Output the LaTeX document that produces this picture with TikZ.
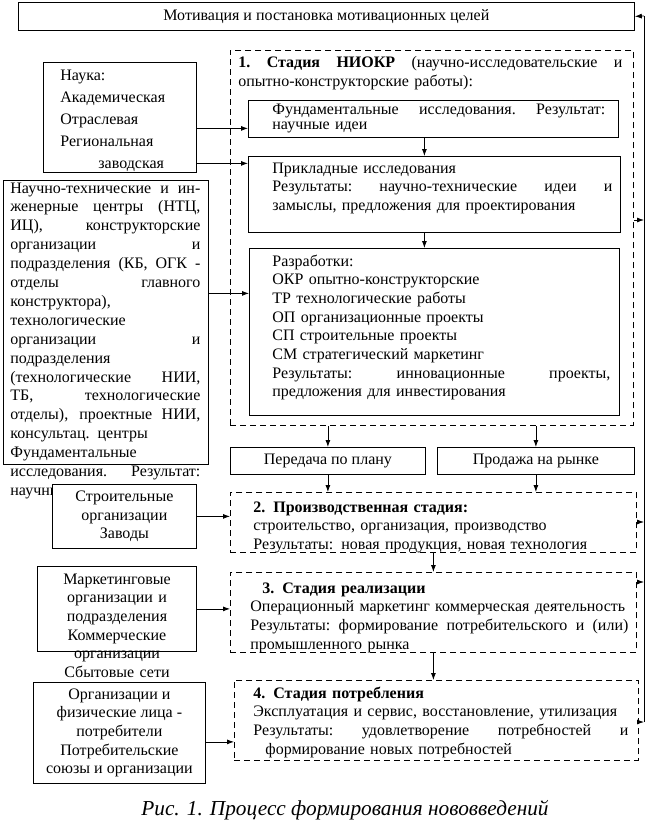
\documentclass[tikz,border=0pt]{standalone}
\usepackage{fontspec}
\setmainfont{Liberation Serif}
\usetikzlibrary{arrows.meta, positioning}

\tikzset{
  box/.style={draw, line width=0.8pt, fill=white, inner sep=0pt, anchor=north west},
  stagebox/.style={draw, line width=0.8pt, dash pattern=on 6pt off 4pt, inner sep=0pt, anchor=north west},
  txt/.style={anchor=base west, inner sep=0pt, align=left},
}
% строка по всей ширине
\newcommand{\fullline}[2]{\makebox[#1][s]{\spaceskip=0.25em plus 1fil\xspaceskip=0.25em plus 1fil #2}}

\begin{document}
\begin{tikzpicture}[x=1pt, y=-1pt, >={Latex[length=7pt,width=5pt]}, line width=0.8pt,
    font=\fontsize{16}{18.7}\selectfont]
    \useasboundingbox (0,0) rectangle (647,832);

    % Мотивация
    \node[box, minimum width=616pt, minimum height=28pt] (motiv) at (18,2)
        {Мотивация и постановка мотивационных целей};

    % Стадия 1
    \node[stagebox, minimum width=403pt, minimum height=375pt] (niokr) at (230,50) {};
    \node[txt, text width=384pt] (niokrtext) at (238,68)
        {\fullline{384pt}{\textbf{1. Стадия НИОКР} (научно-исследовательские и}\\
         опытно-конструкторские работы):};
    \node[box, minimum width=370pt, minimum height=37pt] (fund) at (248,100) {};
    \node[txt, text width=333pt, font=\fontsize{16}{15}\selectfont] (fundtext) at (272,114)
        {\fullline{333pt}{Фундаментальные исследования. Результат:}\\ научные идеи};
    \node[box, minimum width=372pt, minimum height=76pt] (prikl) at (248,156) {};
    \node[txt, text width=340pt] (prikltext) at (272,173)
        {Прикладные исследования\\
         \fullline{340pt}{Результаты: научно-технические идеи и}\\
         замыслы, предложения для проектирования};
    \node[box, minimum width=370pt, minimum height=167pt] (razrab) at (249,248) {};
    \node[txt, text width=338pt] (razrabtext) at (272,266)
        {Разработки:\\
         ОКР опытно-конструкторские\\
         ТР технологические работы\\
         ОП организационные проекты\\
         СП строительные проекты\\
         СМ стратегический маркетинг\\
         \fullline{338pt}{Результаты: инновационные проекты,}\\
         предложения для инвестирования};

    % Наука
    \node[box, minimum width=153pt, minimum height=110pt] (nauka) at (43,62) {};
    \node[txt, text width=130pt, font=\fontsize{16}{22}\selectfont] (naukatext) at (60,81)
        {Наука:\\ Академическая\\ Отраслевая\\ Региональная\\ \hspace*{38pt}заводская};

    % НТЦ
    \node[box, minimum width=205pt, minimum height=284pt] (ntc) at (3,180) {};
    \node[txt, text width=190pt, font=\fontsize{16}{18.9}\selectfont] (ntctext) at (10,193)
        {\fullline{190pt}{Научно-технические и ин-}\\
         \fullline{190pt}{женерные центры (НТЦ,}\\
         \fullline{190pt}{ИЦ), конструкторские}\\
         \fullline{190pt}{организации и}\\
         \fullline{190pt}{подразделения (КБ, ОГК -}\\
         \fullline{190pt}{отделы главного}\\
         конструктора),\\
         технологические\\
         \fullline{190pt}{организации и}\\
         подразделения\\
         \fullline{190pt}{(технологические НИИ,}\\
         \fullline{190pt}{ТБ, технологические}\\
         \fullline{190pt}{отделы), проектные НИИ,}\\
         консультац. центры\\
         Фундаментальные\\
         \fullline{190pt}{исследования. Результат:}\\
         научные идеи};

    % Передача
    \node[box, minimum width=195pt, minimum height=27pt] (peredacha) at (230,447) {Передача по плану};
    \node[box, minimum width=197pt, minimum height=27pt] (prodazha) at (437,447) {Продажа на рынке};

    % Стадия 2
    \node[stagebox, minimum width=406pt, minimum height=60pt] (stagetwo) at (230,492) {};
    \node[txt, text width=370pt] (stagetwotext) at (253,512)
        {\textbf{2. Производственная стадия:}\\
         строительство, организация, производство\\
         Результаты: новая продукция, новая технология};
    \node[box, minimum width=144pt, minimum height=64pt, align=center] (stroit) at (52,484)
        {Строительные\\ организации\\ Заводы};

    % Стадия 3
    \node[stagebox, minimum width=406pt, minimum height=80pt] (stagethree) at (230,572) {};
    \node[txt, text width=378pt] (stagethreetext) at (250,593)
        {\hspace*{12pt}\textbf{3. Стадия реализации}\\
         Операционный маркетинг коммерческая деятельность\\
         \fullline{378pt}{Результаты: формирование потребительского и (или)}\\
         промышленного рынка};
    \node[box, minimum width=159pt, minimum height=85pt] (market) at (37,566) {};
    \node[anchor=base, inner sep=0pt, align=center, text width=160pt] (markettext) at (117,584)
        {Маркетинговые\\ организации и\\ подразделения\\ Коммерческие\\ организации\\ Сбытовые сети};

    % Стадия 4
    \node[stagebox, minimum width=404pt, minimum height=80pt] (stagefour) at (234,680) {};
    \node[txt, text width=375pt] (stagefourtext) at (253,698)
        {\textbf{4. Стадия потребления}\\
         Эксплуатация и сервис, восстановление, утилизация\\
         \fullline{375pt}{Результаты: удовлетворение потребностей и}\\
         \hspace*{12pt}формирование новых потребностей};
    \node[box, minimum width=172pt, minimum height=101pt, align=center] (org) at (33,682)
        {Организации и\\ физические лица -\\ потребители\\ Потребительские\\ союзы и организации};

    % Стрелки
    \draw[->] ([yshift=-11pt]nauka.east) -- ([yshift=-11pt]nauka.east -| fund.west);
    \draw[->] ([yshift=-46pt]nauka.east) -- ([yshift=-46pt]nauka.east -| prikl.west);
    \draw[->] ([yshift=29pt]ntc.east) -- ([yshift=29pt]ntc.east -| razrab.west);
    \draw[->] ([xshift=-9pt]fund.south) -- ([xshift=-9pt]fund.south |- prikl.north);
    \draw[->] ([xshift=-10pt]prikl.south) -- ([xshift=-10pt]prikl.south |- razrab.north);
    \draw[->] (peredacha.north |- niokr.south) -- (peredacha.north);
    \draw[->] (prodazha.north |- niokr.south) -- (prodazha.north);
    \draw[->] (peredacha.south) -- (peredacha.south |- stagetwo.north);
    \draw[->] (prodazha.south) -- (prodazha.south |- stagetwo.north);
    \draw[->] (stroit.east) -- (stroit.east -| stagetwo.west);
    \draw[->] (stagetwo.south) -- (stagetwo.south |- stagethree.north);
    \draw[->] (market.east) -- (market.east -| stagethree.west);
    \draw[->] (stagethree.south) -- (stagethree.south |- stagefour.north);
    \draw[->] ([yshift=-9pt]org.east) -- ([yshift=-9pt]org.east -| stagefour.west);

    % Обратная связь
    \coordinate (fbtop) at (644,16);
    \coordinate (fbone) at (644,220);
    \coordinate (fbtwo) at (644,522);
    \coordinate (fbthree) at (644,582);
    \coordinate (fbfour) at (644,722);
    \draw (fbfour) -- (fbtop);
    \draw[->] (fbtop) -- (motiv.east);
    \draw[->] (niokr.east |- fbone) -- (fbone);
    \draw[->] (stagetwo.east |- fbtwo) -- (fbtwo);
    \draw[->] (stagethree.east |- fbthree) -- (fbthree);
    \draw[->] (stagefour.east |- fbfour) -- (fbfour);

    \node[font=\fontsize{21.3}{25}\selectfont\itshape] (caption) at (345,810)
        {Рис. 1. Процесс формирования нововведений};
\end{tikzpicture}
\end{document}
